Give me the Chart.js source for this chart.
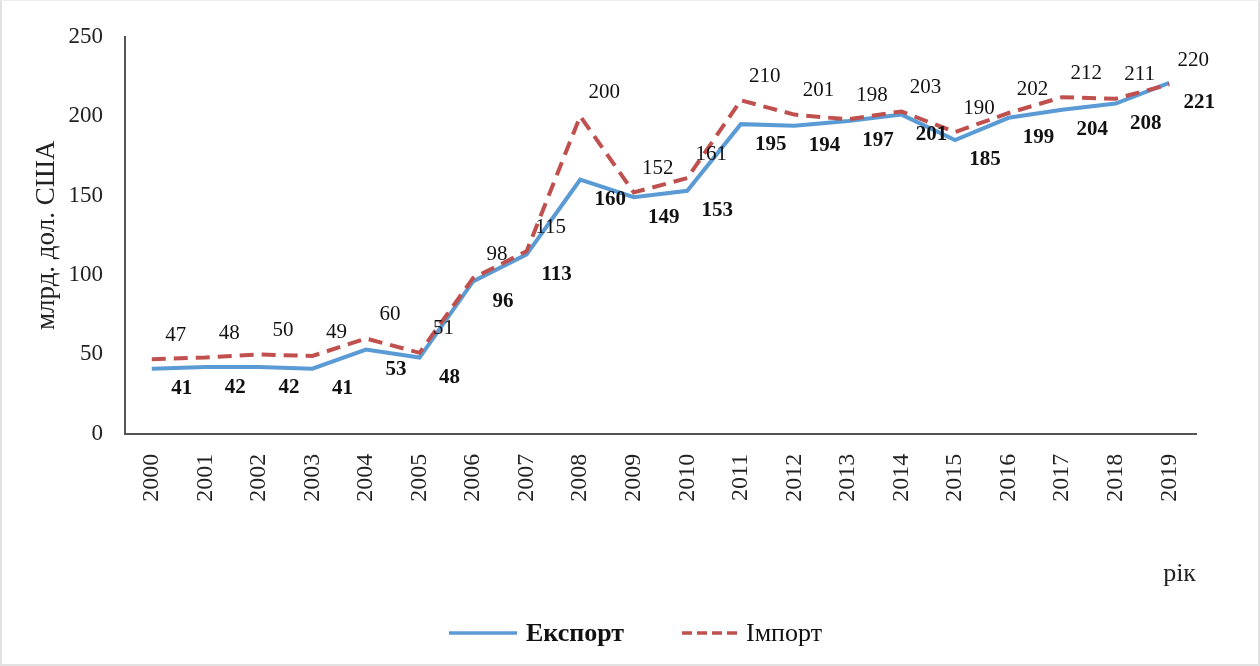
<!DOCTYPE html>
<html>
<head>
<meta charset="utf-8">
<script src="https://cdn.jsdelivr.net/npm/chart.js@4"></script>
<style>
  html, body { margin: 0; padding: 0; background: #fff; }
  #wrap { position: relative; width: 1260px; height: 666px; box-sizing: border-box; border: 2px solid #e2e2e2; border-top: 1px solid #eee; }
  canvas { display: block; }
</style>
</head>
<body>
<div id="wrap"><canvas id="c" width="1256" height="663"></canvas></div>
<script>
const years = ['2000','2001','2002','2003','2004','2005','2006','2007','2008','2009',
               '2010','2011','2012','2013','2014','2015','2016','2017','2018','2019'];
const exportVals = [41, 42, 42, 41, 53, 48, 96, 113, 160, 149, 153, 195, 194, 197, 201, 185, 199, 204, 208, 221];
const importVals = [47, 48, 50, 49, 60, 51, 98, 115, 200, 152, 161, 210, 201, 198, 203, 190, 202, 212, 211, 220];
const yTicks = [0, 50, 100, 150, 200, 250];

const serif = '"Liberation Serif", "DejaVu Serif", serif';
const blue = '#5b9bd5';
const red = '#c0504d';

// value labels + bottom legend, drawn on top
const extras = {
  id: 'extras',
  afterDatasetsDraw(chart) {
    const ctx = chart.ctx;
    ctx.save();
    ctx.fillStyle = '#111';
    ctx.textAlign = 'center';
    ctx.textBaseline = 'middle';
    chart.getDatasetMeta(0).data.forEach((pt, i) => {
      ctx.font = 'bold 21px ' + serif;
      ctx.fillText(exportVals[i], pt.x + 30, pt.y + 20);
    });
    chart.getDatasetMeta(1).data.forEach((pt, i) => {
      ctx.font = '21px ' + serif;
      ctx.fillText(importVals[i], pt.x + 24, pt.y - 24);
    });

    // legend
    const ly = 632;
    ctx.lineWidth = 3.5;
    ctx.strokeStyle = blue;
    ctx.setLineDash([]);
    ctx.beginPath(); ctx.moveTo(447, ly); ctx.lineTo(515, ly); ctx.stroke();
    ctx.strokeStyle = red;
    ctx.setLineDash([10, 5]);
    ctx.beginPath(); ctx.moveTo(680, ly); ctx.lineTo(738, ly); ctx.stroke();
    ctx.setLineDash([]);
    ctx.textAlign = 'left';
    ctx.font = 'bold 26px ' + serif;
    ctx.fillText('Експорт', 524, ly + 1);
    ctx.font = '26px ' + serif;
    ctx.fillText('Імпорт', 744, ly + 1);
    ctx.restore();
  }
};

new Chart(document.getElementById('c'), {
  type: 'line',
  data: {
    labels: years,
    datasets: [
      { label: 'Експорт', data: exportVals, borderColor: blue, backgroundColor: blue,
        borderWidth: 4, pointRadius: 0, tension: 0, order: 1 },
      { label: 'Імпорт', data: importVals, borderColor: red, backgroundColor: red,
        borderWidth: 4, borderDash: [14, 8], pointRadius: 0, tension: 0, order: 0 }
    ]
  },
  options: {
    responsive: false,
    animation: false,
    layout: { padding: { left: 29, top: 35, right: 62, bottom: 74 } },
    plugins: { legend: { display: false }, tooltip: { enabled: false } },
    scales: {
      x: {
        offset: true,
        grid: { display: false, drawTicks: false },
        border: { color: '#555', width: 2 },
        ticks: { color: '#222', font: { family: serif, size: 24 }, minRotation: 90, maxRotation: 90, padding: 20 },
        title: { display: true, text: 'рік', align: 'end', color: '#222',
                 font: { family: serif, size: 26 }, padding: { top: 37, bottom: 0 } }
      },
      y: {
        min: 0, max: 250,
        afterBuildTicks: (axis) => { axis.ticks = yTicks.map(v => ({ value: v })); },
        afterFit: (axis) => { axis.width = 94; },
        grid: { display: false, drawTicks: false },
        border: { color: '#555', width: 2 },
        ticks: { color: '#222', font: { family: serif, size: 23 }, padding: 22 },
        title: { display: true, text: 'млрд. дол. США', color: '#222',
                 font: { family: serif, size: 27 }, padding: { top: 0, bottom: 0 } }
      }
    }
  },
  plugins: [extras]
});
</script>
</body>
</html>
